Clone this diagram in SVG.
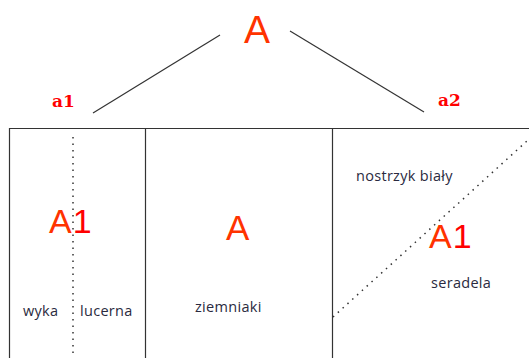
<svg xmlns="http://www.w3.org/2000/svg" width="529" height="358" viewBox="0 0 529 358">
<style>
.big{font-family:"Liberation Sans",Arial,sans-serif;fill:#ff3300}
.lbl{font-family:"DejaVu Serif","Liberation Serif",serif;font-weight:bold;font-size:17px;fill:#ff0000}
.t{font-family:"Open Sans","Liberation Sans",sans-serif;font-size:14.5px;letter-spacing:0.3px;fill:#2a2a40}
.ln{stroke:#333;stroke-width:1.2;fill:none}
.dot{stroke:#333;stroke-width:1.5;stroke-dasharray:1.5 5;fill:none}
</style>
<rect width="529" height="358" fill="#fff"/>
<g id="root"><text class="big" x="244" y="43" font-size="39">A</text></g>
<g id="a1"><text class="lbl" x="52" y="107">a1</text></g>
<g id="a2"><text class="lbl" x="438" y="106">a2</text></g>
<g id="connectors">
<line class="ln" x1="93" y1="113" x2="220" y2="35"/>
<line class="ln" x1="290" y1="31" x2="424" y2="112"/>
</g>
<g id="table">
<path class="ln" d="M9.5 358 V128.5 H529 M145.5 128.5 V358 M332.5 128.5 V358"/>
<line class="dot" x1="73" y1="137" x2="73" y2="358"/>
<line class="dot" x1="333" y1="317" x2="527" y2="141"/>
</g>
<g id="cell1">
<text class="big" x="49" y="233" font-size="34">A<tspan fill="#ff0000" dx="1">1</tspan></text>
<text class="t" x="23" y="316">wyka</text>
<text class="t" x="80" y="316">lucerna</text>
</g>
<g id="cell2">
<text class="big" x="226" y="240" font-size="35">A</text>
<text class="t" x="195" y="312">ziemniaki</text>
</g>
<g id="cell3">
<text class="big" x="429" y="248" font-size="34">A<tspan fill="#ff0000" dx="1">1</tspan></text>
<text class="t" x="356" y="181">nostrzyk biały</text>
<text class="t" x="431" y="288">seradela</text>
</g>
</svg>
